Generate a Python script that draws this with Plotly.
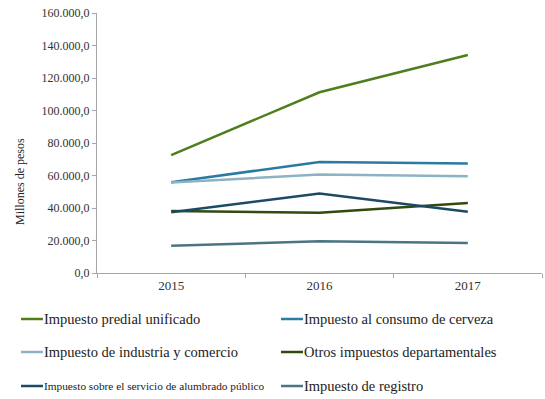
import plotly.graph_objects as go

years = ["2015", "2016", "2017"]
series_names = [
    "Impuesto predial unificado",
    "Impuesto al consumo de cerveza",
    "Impuesto de industria y comercio",
    "Otros impuestos departamentales",
    "Impuesto sobre el servicio de alumbrado público",
    "Impuesto de registro",
]
predial = [72600, 111200, 134200]
cerveza = [55900, 68300, 67400]
industria = [55700, 60600, 59600]
otros = [38200, 37100, 43100]
alumbrado = [37400, 48900, 37700]
registro = [16700, 19600, 18400]
series_values = [predial, cerveza, industria, otros, alumbrado, registro]
colors = ["#4f7f1c", "#2a7aa2", "#8db3c3", "#324a0f", "#1b4a66", "#4b7583"]
legend_font_sizes = [14.5, 14.5, 14.5, 14.5, 11.3, 14.5]
y_ticks = [0, 20000, 40000, 60000, 80000, 100000, 120000, 140000, 160000]
y_tick_labels = ["0,0", "20.000,0", "40.000,0", "60.000,0", "80.000,0",
                 "100.000,0", "120.000,0", "140.000,0", "160.000,0"]

FONT = "Liberation Serif"
W, H = 545, 399
ML, MR, MT, MB = 97, 3, 13, 126
PW, PH = W - ML - MR, H - MT - MB

def px_to_paper_x(px):
    return (px - ML) / PW

def px_to_paper_y(py):
    return (H - MB - py) / PH

fig = go.Figure()
for name, vals, col in zip(series_names, series_values, colors):
    fig.add_trace(go.Scatter(x=years, y=vals, mode="lines", name=name,
                             line=dict(color=col, width=2.5), showlegend=False))

fig.update_layout(
    width=W, height=H,
    margin=dict(l=ML, r=MR, t=MT, b=MB),
    plot_bgcolor="white", paper_bgcolor="white",
    font=dict(family=FONT, size=12, color="#333333"),
    showlegend=False,
    xaxis=dict(type="category", range=[-0.5, 2.5], showline=True,
               linecolor="#a6a6a6", linewidth=1,
               ticks="outside", tickson="boundaries", ticklen=4, tickcolor="#a6a6a6",
               showgrid=False, tickfont=dict(family=FONT, size=13, color="#333333"),
               zeroline=False),
    yaxis=dict(range=[0, 160000], tickvals=y_ticks, ticktext=y_tick_labels,
               showline=True, linecolor="#a6a6a6", linewidth=1, ticks="outside",
               ticklen=4, tickcolor="#a6a6a6", showgrid=False, zeroline=False,
               tickfont=dict(family=FONT, size=12, color="#333333")),
)

# Legend drawn as line samples + text, two columns, three rows
col_x = [21, 281]
row_y = [319, 352, 386]
for i, (name, col, fs) in enumerate(zip(series_names, colors, legend_font_sizes)):
    cx = col_x[i % 2]
    ry = row_y[i // 2]
    fig.add_shape(type="line", xref="paper", yref="paper",
                  x0=px_to_paper_x(cx), x1=px_to_paper_x(cx + 22),
                  y0=px_to_paper_y(ry), y1=px_to_paper_y(ry),
                  line=dict(color=col, width=2.5))
    fig.add_annotation(text=name, xref="paper", yref="paper",
                       x=px_to_paper_x(cx + 21), y=px_to_paper_y(ry),
                       xanchor="left", yanchor="middle", showarrow=False,
                       font=dict(family=FONT, size=fs, color="#222222"))

fig.add_annotation(text="Millones de pesos", xref="paper", yref="paper",
                   x=px_to_paper_x(20), y=px_to_paper_y(182), textangle=-90,
                   showarrow=False,
                   font=dict(family=FONT, size=12, color="#222222"),
                   xanchor="center", yanchor="middle")
fig.write_html("out.html", config={"displayModeBar": False},
               post_script="document.body.style.margin='0';document.body.style.padding='0';")
